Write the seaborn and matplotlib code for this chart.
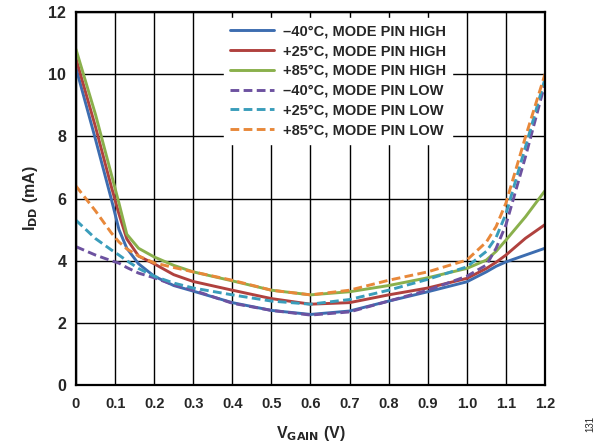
import pandas as pd
import matplotlib.pyplot as plt
import seaborn as sns

# data
v_gain = [0, 0.05, 0.09, 0.11, 0.13, 0.16, 0.2, 0.25, 0.3, 0.4, 0.5, 0.6, 0.7,
          0.8, 0.9, 1.0, 1.05, 1.075, 1.1, 1.15, 1.2]

high_m40 = [10.2, 7.9, 6.0, 5.0, 4.4, 3.9, 3.5, 3.2, 3.02, 2.65, 2.4, 2.27, 2.38,
            2.7, 3.0, 3.32, 3.64, 3.82, 3.96, 4.18, 4.4]
high_p25 = [10.5, 8.3, 6.4, 5.5, 4.7, 4.15, 3.9, 3.55, 3.33, 3.05, 2.78, 2.6, 2.65,
            2.9, 3.12, 3.43, 3.75, 3.95, 4.18, 4.72, 5.16]
high_p85 = [10.8, 8.7, 6.8, 5.85, 4.85, 4.4, 4.12, 3.85, 3.64, 3.35, 3.05, 2.9, 3.0,
            3.2, 3.45, 3.75, 4.02, 4.3, 4.66, 5.41, 6.25]
low_m40 = [4.45, 4.18, 4.0, 3.92, 3.78, 3.6, 3.45, 3.22, 3.05, 2.63, 2.4, 2.25, 2.35,
           2.7, 3.05, 3.5, 3.86, 4.4, 5.15, 7.34, 9.7]
low_p25 = [5.3, 4.71, 4.35, 4.18, 4.0, 3.75, 3.5, 3.28, 3.12, 2.9, 2.7, 2.6, 2.75,
           3.05, 3.4, 3.8, 4.3, 4.75, 5.5, 7.66, 9.85]
low_p85 = [6.4, 5.6, 4.9, 4.6, 4.38, 4.15, 3.93, 3.78, 3.64, 3.37, 3.05, 2.9, 3.05,
           3.37, 3.64, 4.02, 4.6, 5.1, 5.85, 7.98, 10.0]

labels = ["\u201340°C, MODE PIN HIGH", "+25°C, MODE PIN HIGH", "+85°C, MODE PIN HIGH",
          "\u201340°C, MODE PIN LOW", "+25°C, MODE PIN LOW", "+85°C, MODE PIN LOW"]
series = [high_m40, high_p25, high_p85, low_m40, low_p25, low_p85]
colors = ["#3D6DB0", "#B0413E", "#8AB04C", "#6D52A0", "#3A9DBB", "#E8883A"]

sns.set_style("white")
plt.rcParams["font.family"] = ["Liberation Sans", "DejaVu Sans"]
plt.rcParams["font.weight"] = "bold"

fig = plt.figure(figsize=(6.05, 4.46), dpi=100)
ax = fig.add_axes([0.1256, 0.1368, 0.7752, 0.8362])

for lab, vals, col in zip(labels, series, colors):
    df = pd.DataFrame({"x": v_gain, "y": vals})
    ls = "-" if "HIGH" in lab else "--"
    sns.lineplot(data=df, x="x", y="y", color=col, linewidth=2.1, label=lab, ax=ax, linestyle=ls)
    ax.lines[-1].set_solid_joinstyle("round")
    if ls == "--":
        ax.lines[-1].set_dashes((3, 1.5))

ax.set_xlim(0, 1.2)
ax.set_ylim(0, 12)
ax.set_xticks([i / 10 for i in range(13)])
ax.set_xticklabels(["0", "0.1", "0.2", "0.3", "0.4", "0.5", "0.6", "0.7", "0.8", "0.9", "1.0", "1.1", "1.2"])
ax.set_yticks(range(0, 13, 2))
ax.tick_params(axis="x", labelsize=10.5, length=0, pad=9)
ax.tick_params(axis="y", labelsize=11.5, length=0, pad=7)
for t in ax.get_xticklabels() + ax.get_yticklabels():
    t.set_fontweight("bold")
ax.grid(True, color="black", linewidth=1.0)
ax.set_axisbelow(True)
for s in ax.spines.values():
    s.set_color("black")
    s.set_linewidth(1.6)

ax.set_xlabel(r"V$_{\mathbf{GAIN}}$ (V)", fontsize=11.5, fontweight="bold", labelpad=9)
ax.set_ylabel(r"I$_{\mathbf{DD}}$ (mA)", fontsize=11.5, fontweight="bold", labelpad=6)

leg = ax.legend(loc="upper left", bbox_to_anchor=(0.315, 0.985), frameon=True, fancybox=False,
                framealpha=1, edgecolor="white", facecolor="white", fontsize=10.5,
                handlelength=3.0, handletextpad=0.6, labelspacing=0.40, borderpad=0.45, borderaxespad=0)
for t in leg.get_texts():
    t.set_fontweight("bold")

fig.text(0.975, 0.05, "131", rotation=90, fontsize=7, fontweight="normal", ha="center", va="center")

plt.savefig("out.png", dpi=100)
